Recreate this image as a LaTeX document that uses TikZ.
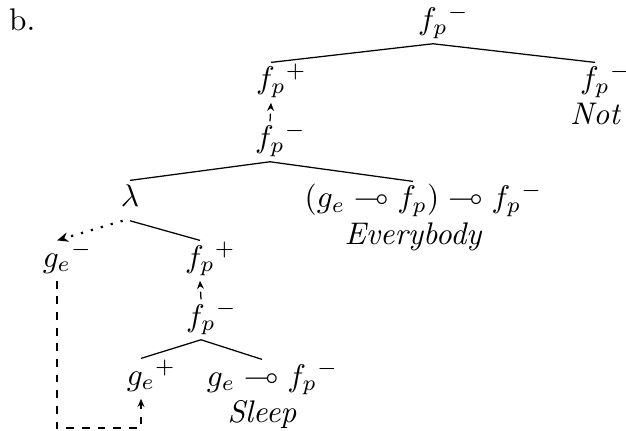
\documentclass[tikz,border=0pt]{standalone}
\usepackage{amsmath, amssymb}
\usepackage{tikz}
\usetikzlibrary{arrows.meta, positioning}

% polarity mark hangs to the right of the type
\newcommand{\pol}[2]{#1\rlap{$^{#2}$}}

\begin{document}
\begin{tikzpicture}[
    x=0.3195pt, y=-0.3195pt,
    tn/.style={anchor=base, inner sep=1.3pt, text height=7pt, text depth=2.9pt},
    word/.style={inner sep=0pt, font=\itshape},
    edge/.style={line width=0.4pt},
    moveup/.style={dash pattern=on 2.5pt off 2.5pt, -{Stealth[length=2.6pt, width=2.2pt]}},
    bind/.style={line width=0.7pt, dash pattern=on 0.7pt off 2.6pt, -{Stealth[length=3.6pt, width=3pt]}},
    label distance=0pt
]
\useasboundingbox (0,0) rectangle (626,431);

\node[anchor=base west, inner sep=0pt] (tag) at (8.5,30.5) {b.};

\node[tn] (top) at (433,30)  {$\pol{f_p}{-}$};
\node[tn] (fpa) at (271,89)  {$\pol{f_p}{+}$};
\node[tn, label={[word]below:Not}] (fpn) at (595,89) {$\pol{f_p}{-}$};
\node[tn] (fpm) at (270,148) {$\pol{f_p}{-}$};
\node[tn] (lam) at (130,207) {$\lambda$};
\node[tn, label={[word]below:Everybody}] (evb) at (413,208)
    {$(g_e \multimap f_p) \multimap \pol{f_p}{-}$};
\node[tn] (gem) at (57,267)  {$\pol{g_e}{-}$};
\node[tn] (fpb) at (200,267) {$\pol{f_p}{+}$};
\node[tn] (fpc) at (201,326) {$\pol{f_p}{-}$};
\node[tn] (gep) at (141,385) {$\pol{g_e}{+}$};
\node[tn, label={[word]below:Sleep}] (slp) at (262,386)
    {$g_e \multimap \pol{f_p}{-}$};

\coordinate (low) at (0,428);

\foreach \a/\b in {top/fpa, top/fpn, fpm/lam, fpm/evb,
                   lam/fpb, fpc/gep, fpc/slp}
    \draw[edge] (\a.south) -- (\b.north);

\draw[moveup] (fpm.north) -- (fpa.south);
\draw[moveup] (fpc.north) -- (fpb.south);
\draw[moveup] (gem.south) -- (gem.south |- low) -| (gep.south);
\draw[bind] (lam.250) -- (gem.north);
\end{tikzpicture}
\end{document}
